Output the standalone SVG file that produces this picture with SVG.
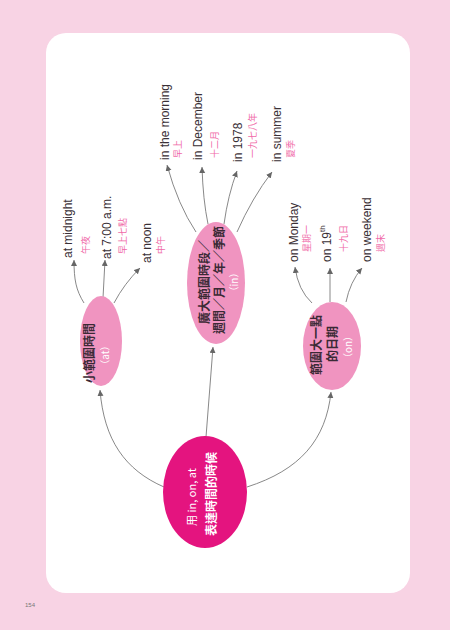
<svg xmlns="http://www.w3.org/2000/svg" width="450" height="630" viewBox="0 0 450 630">
<style>
.lnk{fill:none;stroke:#7a7a7a;stroke-width:0.9}
.en{font-family:"Liberation Sans",Arial,sans-serif;font-size:12px;fill:#3a3036}
.zh{font-family:"Noto Sans CJK TC","Noto Sans CJK SC",sans-serif;font-size:9px;fill:#f06aa8}
.nd{font-family:"Noto Sans CJK TC","Noto Sans CJK SC",sans-serif;font-size:12px;font-weight:bold;fill:#3a2a35}
.wt{font-family:"Noto Sans CJK TC","Liberation Sans",sans-serif;font-size:10px;fill:#ffffff}
.wb{font-family:"Noto Sans CJK TC","Noto Sans CJK SC",sans-serif;font-size:12px;font-weight:bold;fill:#ffffff}
text{dominant-baseline:central}
</style>
<defs>
<marker id="ah" markerUnits="userSpaceOnUse" markerWidth="7" markerHeight="7" refX="6" refY="3" orient="auto">
<path d="M0,0 L6,3 L0,6 z" fill="#666"/>
</marker>
</defs>
<rect x="0" y="0" width="450" height="630" fill="#f8d3e4"/>
<rect x="46" y="33" width="364" height="560" rx="20" fill="#ffffff"/>
<text x="25" y="605" style="font-family:'Liberation Sans',sans-serif;font-size:6px;fill:#777">154</text>

<g id="connectors">
<path class="lnk" marker-end="url(#ah)" d="M164,487 C125,470 104,440 100,390"/>
<path class="lnk" marker-end="url(#ah)" d="M206,437 L213,347"/>
<path class="lnk" marker-end="url(#ah)" d="M247,487 C300,470 326,440 331,392"/>
<path class="lnk" marker-end="url(#ah)" d="M84,303 C76,290 74,280 74,260"/>
<path class="lnk" marker-end="url(#ah)" d="M103,298 L105,260"/>
<path class="lnk" marker-end="url(#ah)" d="M114,303 Q124,284 140,268"/>
<path class="lnk" marker-end="url(#ah)" d="M196,232 Q178,205 167,165"/>
<path class="lnk" marker-end="url(#ah)" d="M208,224 Q203,200 202,167"/>
<path class="lnk" marker-end="url(#ah)" d="M224,224 Q228,195 237,171"/>
<path class="lnk" marker-end="url(#ah)" d="M237,232 Q252,198 272,172"/>
<path class="lnk" marker-end="url(#ah)" d="M312,303 Q298,290 295,267"/>
<path class="lnk" marker-end="url(#ah)" d="M330,302 L330,268"/>
<path class="lnk" marker-end="url(#ah)" d="M346,302 Q350,282 362,268"/>
</g>

<g id="center">
<ellipse cx="205" cy="492" rx="42" ry="56" fill="#e4147f"/>
<text class="wt" transform="translate(191,497) rotate(-90)" text-anchor="middle" style="font-size:11px">用 in, on, at</text>
<text class="wb" transform="translate(210,494) rotate(-90)" text-anchor="middle">表達時間的時候</text>
</g>

<g id="node-at">
<ellipse cx="101" cy="341" rx="21" ry="45" fill="#f094c0"/>
<text class="nd" transform="translate(88,353) rotate(-90)" text-anchor="middle">小範圍時間</text>
<text class="wt" transform="translate(104,355) rotate(-90)" text-anchor="middle">（at）</text>
</g>

<g id="node-in">
<ellipse cx="216" cy="283" rx="29" ry="61" fill="#f094c0"/>
<text class="nd" transform="translate(203,282) rotate(-90)" text-anchor="middle">廣大範圍時段／</text>
<text class="nd" transform="translate(218,280) rotate(-90)" text-anchor="middle">週間／月／年／季節</text>
<text class="wt" transform="translate(233,282) rotate(-90)" text-anchor="middle">（in）</text>
</g>

<g id="node-on">
<ellipse cx="332" cy="346" rx="29" ry="44" fill="#f094c0"/>
<text class="nd" transform="translate(315,345) rotate(-90)" text-anchor="middle">範圍大一點</text>
<text class="nd" transform="translate(331,344) rotate(-90)" text-anchor="middle">的日期</text>
<text class="wt" transform="translate(347,347) rotate(-90)" text-anchor="middle">（on）</text>
</g>

<g id="leaves-at">
<text class="en" transform="translate(68,258) rotate(-90)">at midnight</text>
<text class="zh" transform="translate(85,254) rotate(-90)">午夜</text>
<text class="en" transform="translate(107,259) rotate(-90)">at 7:00 a.m.</text>
<text class="zh" transform="translate(122,254) rotate(-90)">早上七點</text>
<text class="en" transform="translate(147,263) rotate(-90)">at noon</text>
<text class="zh" transform="translate(160,254) rotate(-90)">中午</text>
</g>

<g id="leaves-in">
<text class="en" transform="translate(165,160) rotate(-90)">in the morning</text>
<text class="zh" transform="translate(177,158) rotate(-90)">早上</text>
<text class="en" transform="translate(198,160) rotate(-90)">in December</text>
<text class="zh" transform="translate(214,158) rotate(-90)">十二月</text>
<text class="en" transform="translate(238,162) rotate(-90)">in 1978</text>
<text class="zh" transform="translate(252,158) rotate(-90)">一九七八年</text>
<text class="en" transform="translate(277,162) rotate(-90)">in summer</text>
<text class="zh" transform="translate(290,158) rotate(-90)">夏季</text>
</g>

<g id="leaves-on">
<text class="en" transform="translate(294,262) rotate(-90)">on Monday</text>
<text class="zh" transform="translate(306,252) rotate(-90)">星期一</text>
<text class="en" transform="translate(327,262) rotate(-90)">on 19<tspan font-size="8" baseline-shift="super">th</tspan></text>
<text class="zh" transform="translate(343,252) rotate(-90)">十九日</text>
<text class="en" transform="translate(367,262) rotate(-90)">on weekend</text>
<text class="zh" transform="translate(380,252) rotate(-90)">週末</text>
</g>
</svg>
